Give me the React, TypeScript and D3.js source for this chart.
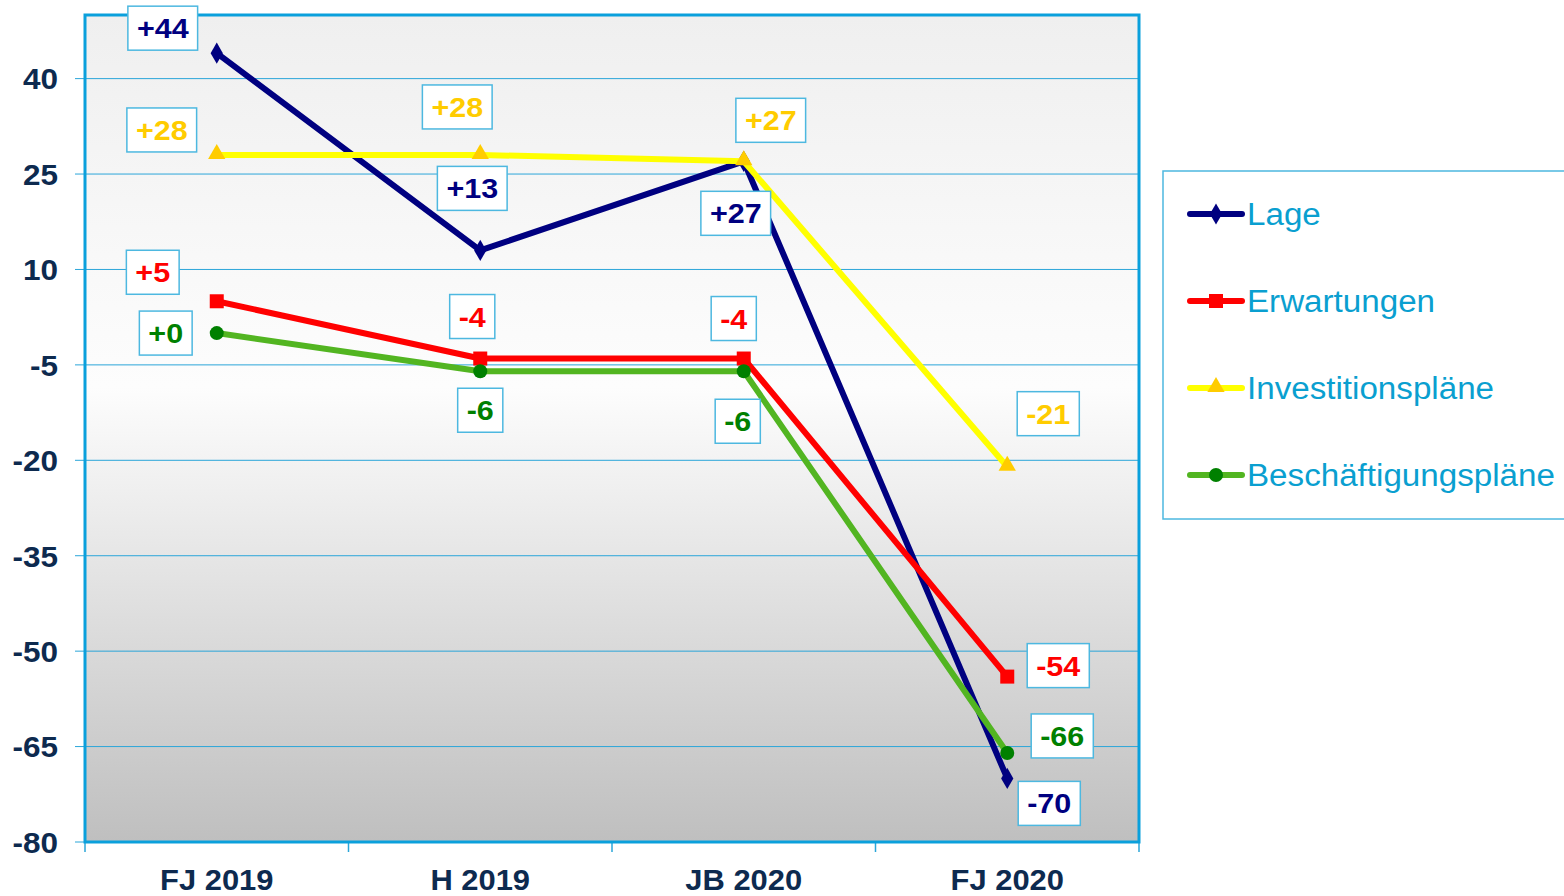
import React, { useEffect, useRef } from "react";
import * as d3 from "d3";

const categories = ["FJ 2019", "H 2019", "JB 2020", "FJ 2020"];
const yTicks = [-80, -65, -50, -35, -20, -5, 10, 25, 40];
const seriesNames = ["Lage", "Erwartungen", "Investitionspläne", "Beschäftigungspläne"];
const lageValues = [44, 13, 27, -70];
const erwartungenValues = [5, -4, -4, -54];
const investValues = [28, 28, 27, -21];
const beschValues = [0, -6, -6, -66];

// label box placement relative to the point (pixels)
const labelOffsets = [
  [[-54, -25], [-8, -62], [-8, 52], [42, 25]],
  [[-64, -29], [-8, -42], [-10, -40], [51, -11]],
  [[-55, -25], [-23, -48], [27, -41], [41, -53]],
  [[-51, 0], [0, 39], [-6, 50], [55, -17]],
];

const styles = [
  { line: "#000080", marker: "#000080", label: "#000080", shape: "diamond" },
  { line: "#ff0000", marker: "#ff0000", label: "#ff0000", shape: "square" },
  { line: "#ffff00", marker: "#ffcc00", label: "#ffcc00", shape: "triangle" },
  { line: "#52b521", marker: "#008000", label: "#008000", shape: "circle" },
];

const FONT = "'Liberation Sans', Arial, sans-serif";

export default function App() {
  const ref = useRef<SVGSVGElement>(null);
  useEffect(() => {
    const svg = d3.select(ref.current);
    svg.selectAll("*").remove();
    const W = 1564, H = 896;
    const m = { left: 85, right: 1139, top: 15, bottom: 842 };
    const x = d3.scaleBand<string>().domain(categories).range([m.left, m.right]);
    const cx = (c: string) => (x(c) as number) + x.bandwidth() / 2;
    const y = d3.scaleLinear().domain([-80, 50]).range([m.bottom, m.top]);

    const stretched = (sel: any, tx: number, ty: number, sx: number) =>
      sel.attr("transform", `translate(${tx},${ty}) scale(${sx},1)`).attr("x", 0).attr("y", 0);

    const defs = svg.append("defs");
    const g = defs.append("linearGradient").attr("id", "bg").attr("x1", 0).attr("y1", 0).attr("x2", 0).attr("y2", 1);
    g.append("stop").attr("offset", "0%").attr("stop-color", "#efefef");
    g.append("stop").attr("offset", "45%").attr("stop-color", "#fdfdfd");
    g.append("stop").attr("offset", "100%").attr("stop-color", "#bfbfbf");

    svg.append("rect").attr("width", W).attr("height", H).attr("fill", "#ffffff");
    svg.append("rect").attr("x", m.left).attr("y", m.top).attr("width", m.right - m.left)
      .attr("height", m.bottom - m.top).attr("fill", "url(#bg)");

    // gridlines
    svg.append("g").selectAll("line").data(yTicks).join("line")
      .attr("x1", m.left - 10).attr("x2", m.right)
      .attr("y1", (d) => y(d)).attr("y2", (d) => y(d))
      .attr("stroke", "#2ba6d9").attr("stroke-width", 1);

    // y tick labels
    const yg = svg.append("g");
    yTicks.forEach((d) => {
      const t = yg.append("text").attr("dy", "0.36em")
        .attr("text-anchor", "end").attr("font-family", FONT).attr("font-weight", "bold")
        .attr("font-size", 30).attr("fill", "#0d2a4f").text(String(d));
      stretched(t, 58, y(d), 1.05);
    });

    // x ticks
    const xt = categories.map((c) => x(c) as number).concat([m.right]);
    svg.append("g").selectAll("line").data(xt).join("line")
      .attr("x1", (d) => d).attr("x2", (d) => d).attr("y1", m.bottom).attr("y2", m.bottom + 10)
      .attr("stroke", "#2ba6d9").attr("stroke-width", 1.5);
    const xg = svg.append("g");
    categories.forEach((c) => {
      const t = xg.append("text").attr("text-anchor", "middle")
        .attr("font-family", FONT).attr("font-weight", "bold").attr("font-size", 30)
        .attr("fill", "#0d2a4f").text(c);
      stretched(t, cx(c), 890, 1.03);
    });

    // border
    svg.append("rect").attr("x", m.left).attr("y", m.top).attr("width", m.right - m.left)
      .attr("height", m.bottom - m.top).attr("fill", "none").attr("stroke", "#0aa0dc").attr("stroke-width", 3);

    const allValues = [lageValues, erwartungenValues, investValues, beschValues];
    const line = d3.line<number>().x((_, i) => cx(categories[i])).y((d) => y(d));

    const drawMarker = (sel: any, shape: string, color: string, px: number, py: number) => {
      if (shape === "diamond") {
        sel.append("path").attr("d", d3.symbol(d3.symbolDiamond, 130)()).attr("transform", `translate(${px},${py})`).attr("fill", color);
      } else if (shape === "square") {
        sel.append("rect").attr("x", px - 7).attr("y", py - 7).attr("width", 14).attr("height", 14).attr("fill", color);
      } else if (shape === "triangle") {
        sel.append("path").attr("d", d3.symbol(d3.symbolTriangle, 130)()).attr("transform", `translate(${px},${py - 1})`).attr("fill", color);
      } else {
        sel.append("circle").attr("cx", px).attr("cy", py).attr("r", 7).attr("fill", color);
      }
    };

    allValues.forEach((vals, si) => {
      const st = styles[si];
      const gg = svg.append("g");
      gg.append("path").attr("d", line(vals)).attr("fill", "none").attr("stroke", st.line)
        .attr("stroke-width", 6).attr("stroke-linejoin", "round");
      vals.forEach((v, i) => drawMarker(gg, st.shape, st.marker, cx(categories[i]), y(v)));
    });

    // data labels
    const LS = 1.09;
    allValues.forEach((vals, si) => {
      const st = styles[si];
      vals.forEach((v, i) => {
        const px = cx(categories[i]) + labelOffsets[si][i][0];
        const py = y(v) + labelOffsets[si][i][1];
        const lg = svg.append("g");
        const rect = lg.append("rect");
        const t = lg.append("text").attr("dy", "0.36em")
          .attr("text-anchor", "middle").attr("font-family", FONT).attr("font-weight", "bold")
          .attr("font-size", 28).attr("fill", st.label).text((v >= 0 ? "+" : "") + v);
        stretched(t, px, py, LS);
        const w = (t.node() as SVGTextElement).getComputedTextLength() * LS + 18;
        rect.attr("x", px - w / 2).attr("y", py - 22).attr("width", w).attr("height", 44)
          .attr("fill", "#ffffff").attr("stroke", "#4db8e0").attr("stroke-width", 1.5);
      });
    });

    // legend
    svg.append("rect").attr("x", 1163).attr("y", 171).attr("width", 420).attr("height", 348)
      .attr("fill", "#ffffff").attr("stroke", "#4db8e0").attr("stroke-width", 1.5);
    seriesNames.forEach((name, si) => {
      const st = styles[si];
      const ly = 214 + si * 87;
      const lg = svg.append("g");
      lg.append("line").attr("x1", 1190).attr("x2", 1242).attr("y1", ly).attr("y2", ly)
        .attr("stroke", st.line).attr("stroke-width", 6).attr("stroke-linecap", "round");
      drawMarker(lg, st.shape, st.marker, 1216, ly);
      const t = lg.append("text").attr("dy", "0.36em")
        .attr("font-family", FONT).attr("font-size", 31).attr("fill", "#0a9fd0").text(name);
      stretched(t, 1247, ly, 1.07);
    });
  }, []);
  return (
    <svg ref={ref} width={1564} height={896}
      style={{ position: "absolute", left: 0, top: 0, display: "block" }} />
  );
}
